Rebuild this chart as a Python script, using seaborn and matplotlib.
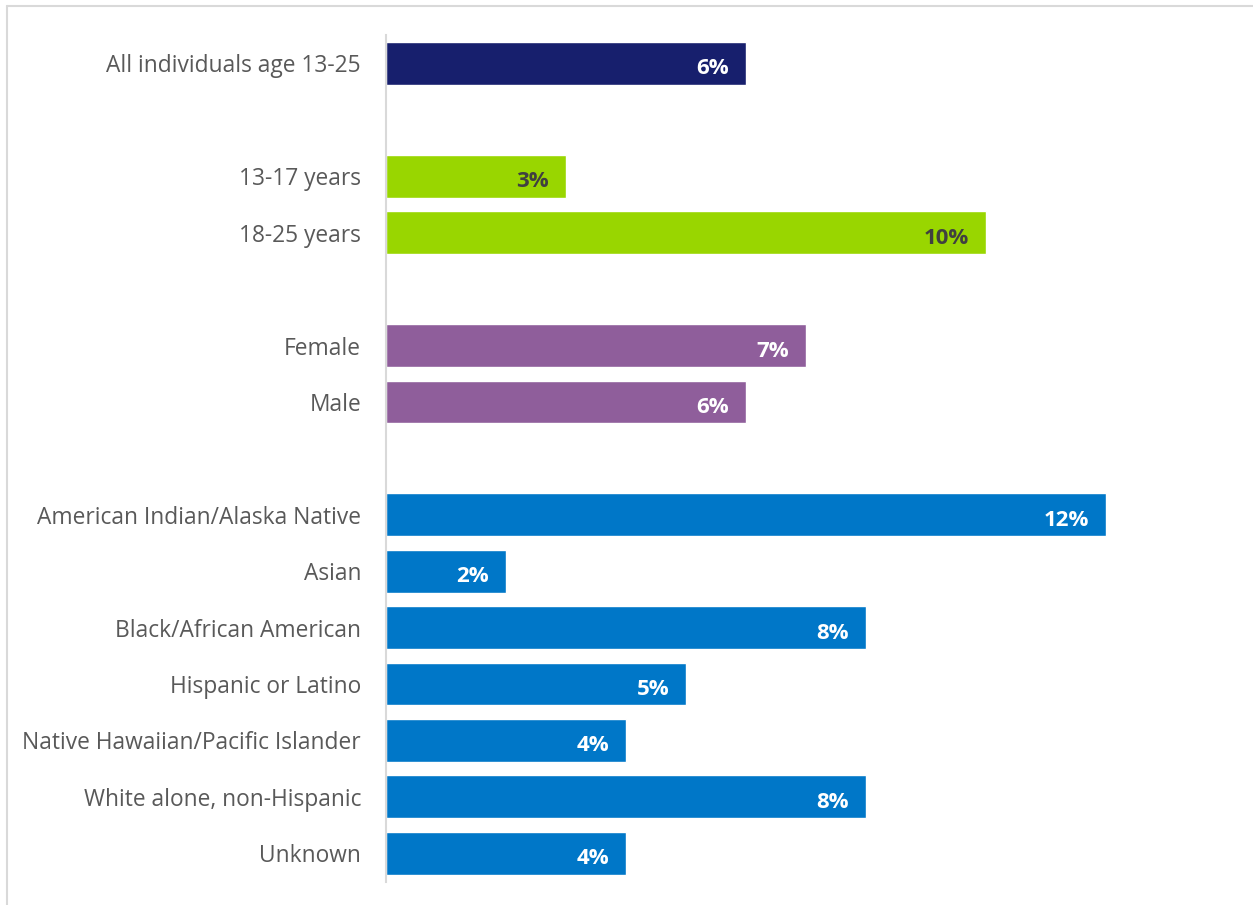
import matplotlib
matplotlib.use("Agg")
import matplotlib.pyplot as plt
from matplotlib.lines import Line2D
import seaborn as sns
import pandas as pd

# Share of youth in each group (percent)
categories = [
    "All individuals age 13-25",
    "13-17 years", "18-25 years",
    "Female", "Male",
    "American Indian/Alaska Native", "Asian", "Black/African American",
    "Hispanic or Latino", "Native Hawaiian/Pacific Islander",
    "White alone, non-Hispanic", "Unknown",
]
values = [6, 3, 10, 7, 6, 12, 2, 8, 5, 4, 8, 4]
groups = ["All", "Age", "Age", "Sex", "Sex",
          "Race", "Race", "Race", "Race", "Race", "Race", "Race"]
# row slots, leaving an empty row between groups
rows = [0, 2, 3, 5, 6, 8, 9, 10, 11, 12, 13, 14]

group_colors = {"All": "#171F6D", "Age": "#99D600", "Sex": "#8F5E9B", "Race": "#0077C8"}
label_colors = {"All": "white", "Age": "#404040", "Sex": "white", "Race": "white"}

df = pd.DataFrame({"category": categories, "value": values,
                   "group": groups, "row": rows})

sns.set_theme(style="white")
plt.rcParams["font.family"] = ["Open Sans", "DejaVu Sans"]

W, H = 1253, 905
fig = plt.figure(figsize=(W / 100, H / 100), dpi=100)
ax_left, ax_right = 386, 386 + 60 * 14
ax_top, ax_bottom = 35, 882
ax = fig.add_axes([ax_left / W, 1 - ax_bottom / H,
                   (ax_right - ax_left) / W, (ax_bottom - ax_top) / H])

sns.barplot(data=df, x="value", y="row", hue="group", orient="h",
            native_scale=True, dodge=False, palette=group_colors,
            width=0.76, saturation=1, legend=False, ax=ax)

ax.set_xlim(0, 14)
ax.set_ylim(14.51, -0.505)
ax.set_yticks(rows)
ax.set_yticklabels(categories, fontsize=16.4, color="#595959")
ax.tick_params(axis="y", length=0, pad=18)
ax.set_xticks([])
ax.set_xlabel("")
ax.set_ylabel("")
for side in ["top", "right", "bottom"]:
    ax.spines[side].set_visible(False)
ax.spines["left"].set_color("#d9d9d9")
ax.spines["left"].set_linewidth(1.5)

for v, r, g in zip(values, rows, groups):
    ax.annotate(f"{v}%", xy=(v, r), xytext=(-17, -3), textcoords="offset pixels",
                ha="right", va="center_baseline", fontsize=16, fontweight="bold",
                color=label_colors[g])

# light frame around the panel
frame_color = "#d9d9d9"
fig.add_artist(Line2D([7 / W, 1], [1 - 6 / H, 1 - 6 / H], color=frame_color, lw=1.5,
                      transform=fig.transFigure))
fig.add_artist(Line2D([7 / W, 7 / W], [0, 1 - 6 / H], color=frame_color, lw=1.5,
                      transform=fig.transFigure))

fig.savefig("out.png", dpi=100, facecolor="white")
